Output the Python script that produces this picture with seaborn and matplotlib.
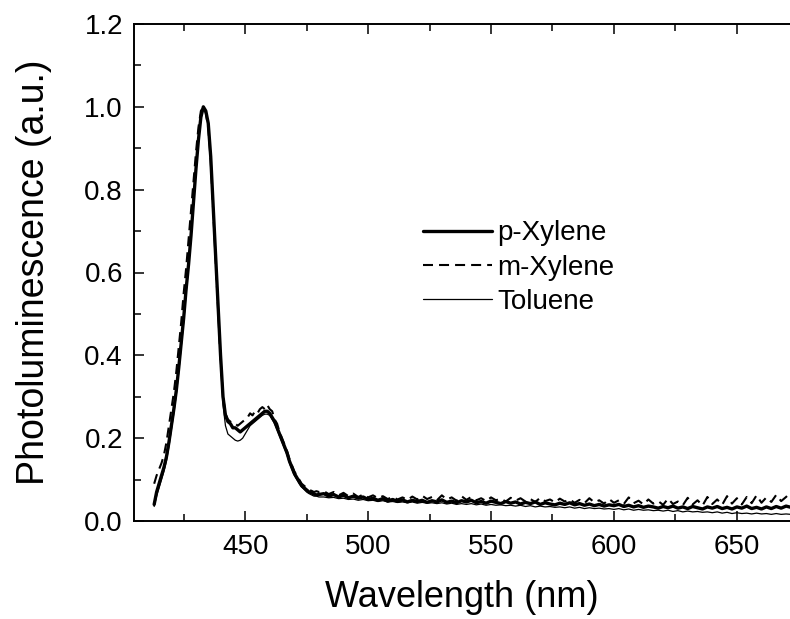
import numpy as np
import pandas as pd
import matplotlib
matplotlib.use("Agg")
import matplotlib.pyplot as plt
from matplotlib.ticker import MultipleLocator
import seaborn as sns

# ---------------- data ----------------
wl_peak = list(range(413, 481))          # 1 nm steps
wl_tail = list(range(482, 673, 2))       # 2 nm steps
wavelength = wl_peak + wl_tail

pxylene_peak = [0.04, 0.07, 0.09, 0.11, 0.13, 0.155, 0.19, 0.23, 0.27, 0.315,
                0.37, 0.43, 0.49, 0.56, 0.62, 0.69, 0.77, 0.85, 0.92, 0.975,
                1.0, 0.99, 0.96, 0.88, 0.76, 0.64, 0.52, 0.40, 0.30, 0.255,
                0.24, 0.235, 0.225, 0.225, 0.22, 0.215, 0.22, 0.225, 0.23, 0.235,
                0.24, 0.245, 0.25, 0.255, 0.26, 0.265, 0.265, 0.26, 0.25, 0.24,
                0.225, 0.21, 0.195, 0.18, 0.165, 0.145, 0.13, 0.115, 0.105, 0.095,
                0.085, 0.08, 0.075, 0.07, 0.068, 0.065, 0.063, 0.064]
pxylene_tail = [0.066, 0.060, 0.064, 0.058, 0.062, 0.056, 0.060, 0.055, 0.058, 0.052,
                0.055, 0.050, 0.054, 0.048, 0.052, 0.047, 0.051, 0.046, 0.050, 0.047,
                0.050, 0.045, 0.049, 0.046, 0.051, 0.045, 0.048, 0.044, 0.049, 0.046,
                0.050, 0.044, 0.047, 0.043, 0.048, 0.045, 0.042, 0.047, 0.043, 0.046,
                0.041, 0.045, 0.042, 0.046, 0.040, 0.044, 0.041, 0.039, 0.043, 0.040,
                0.044, 0.039, 0.042, 0.038, 0.041, 0.037, 0.040, 0.036, 0.039, 0.037,
                0.040, 0.035, 0.038, 0.034, 0.037, 0.033, 0.036, 0.034, 0.031, 0.035,
                0.032, 0.036, 0.031, 0.034, 0.030, 0.035, 0.032, 0.029, 0.034, 0.031,
                0.035, 0.030, 0.033, 0.029, 0.034, 0.031, 0.036, 0.030, 0.033, 0.029,
                0.034, 0.030, 0.035, 0.031, 0.036, 0.033]

mxylene_peak = [0.09, 0.11, 0.125, 0.14, 0.16, 0.19, 0.23, 0.27, 0.31, 0.36,
                0.42, 0.48, 0.55, 0.61, 0.68, 0.75, 0.82, 0.89, 0.95, 0.99,
                1.0, 0.985, 0.95, 0.87, 0.75, 0.63, 0.51, 0.39, 0.30, 0.26,
                0.245, 0.24, 0.235, 0.235, 0.23, 0.235, 0.24, 0.245, 0.25, 0.26,
                0.255, 0.265, 0.26, 0.27, 0.275, 0.27, 0.28, 0.27, 0.265, 0.245,
                0.235, 0.215, 0.20, 0.185, 0.17, 0.15, 0.135, 0.12, 0.11, 0.10,
                0.09, 0.085, 0.08, 0.075, 0.073, 0.07, 0.072, 0.07]
mxylene_tail = [0.072, 0.065, 0.070, 0.062, 0.068, 0.060, 0.066, 0.058, 0.064, 0.057,
                0.062, 0.055, 0.060, 0.053, 0.058, 0.052, 0.057, 0.051, 0.059, 0.052,
                0.061, 0.053, 0.058, 0.050, 0.062, 0.052, 0.057, 0.049, 0.060, 0.051,
                0.058, 0.050, 0.055, 0.048, 0.057, 0.050, 0.054, 0.047, 0.056, 0.049,
                0.055, 0.047, 0.053, 0.046, 0.056, 0.048, 0.052, 0.045, 0.054, 0.047,
                0.052, 0.044, 0.051, 0.043, 0.055, 0.045, 0.050, 0.042, 0.053, 0.044,
                0.050, 0.041, 0.057, 0.043, 0.049, 0.040, 0.052, 0.042, 0.048, 0.039,
                0.054, 0.041, 0.047, 0.038, 0.056, 0.040, 0.050, 0.037, 0.058, 0.041,
                0.052, 0.039, 0.060, 0.042, 0.055, 0.040, 0.058, 0.043, 0.062, 0.044,
                0.057, 0.046, 0.063, 0.048, 0.058, 0.070]

toluene_peak = [0.035, 0.06, 0.08, 0.10, 0.12, 0.145, 0.18, 0.22, 0.26, 0.305,
                0.36, 0.42, 0.48, 0.55, 0.615, 0.685, 0.765, 0.845, 0.915, 0.97,
                1.0, 0.99, 0.955, 0.87, 0.75, 0.625, 0.50, 0.38, 0.28, 0.23,
                0.21, 0.205, 0.20, 0.195, 0.193, 0.195, 0.20, 0.21, 0.22, 0.23,
                0.235, 0.24, 0.245, 0.25, 0.255, 0.258, 0.258, 0.255, 0.245, 0.235,
                0.22, 0.205, 0.19, 0.175, 0.16, 0.14, 0.125, 0.11, 0.10, 0.09,
                0.082, 0.076, 0.07, 0.066, 0.063, 0.06, 0.06, 0.058]
toluene_tail = [0.058, 0.056, 0.057, 0.054, 0.055, 0.052, 0.053, 0.050, 0.052, 0.049,
                0.050, 0.047, 0.049, 0.046, 0.047, 0.045, 0.046, 0.044, 0.046, 0.043,
                0.045, 0.043, 0.044, 0.042, 0.044, 0.041, 0.043, 0.040, 0.042, 0.040,
                0.042, 0.039, 0.041, 0.038, 0.040, 0.038, 0.039, 0.037, 0.038, 0.036,
                0.038, 0.035, 0.037, 0.034, 0.036, 0.034, 0.035, 0.033, 0.034, 0.032,
                0.034, 0.031, 0.033, 0.030, 0.032, 0.030, 0.031, 0.029, 0.030, 0.028,
                0.030, 0.027, 0.029, 0.026, 0.028, 0.026, 0.027, 0.025, 0.026, 0.024,
                0.026, 0.023, 0.025, 0.022, 0.024, 0.022, 0.023, 0.021, 0.022, 0.020,
                0.022, 0.019, 0.021, 0.018, 0.020, 0.018, 0.019, 0.017, 0.019, 0.017,
                0.018, 0.016, 0.018, 0.016, 0.017, 0.016]

series_names = ["p-Xylene", "m-Xylene", "Toluene"]
series_values = [pxylene_peak + pxylene_tail,
                 mxylene_peak + mxylene_tail,
                 toluene_peak + toluene_tail]

x_ticks = [450, 500, 550, 600, 650]
y_ticks = [0.0, 0.2, 0.4, 0.6, 0.8, 1.0, 1.2]

# ---------------- plotting ----------------
sns.set_style("ticks")
plt.rcParams["font.family"] = ["Liberation Sans", "DejaVu Sans"]
plt.rcParams["text.color"] = "black"
plt.rcParams["axes.labelcolor"] = "black"
plt.rcParams["xtick.color"] = "black"
plt.rcParams["ytick.color"] = "black"

fig = plt.figure(figsize=(7.9, 6.19), dpi=100)
ax = fig.add_axes([134 / 790, 1 - 521 / 619, 1 - 134 / 790, (521 - 24) / 619])

styles = [
    dict(lw=2.4, ls="-"),
    dict(lw=1.5, ls=(0, (4.8, 2.9))),
    dict(lw=0.9, ls="-"),
]
for name, vals, st in zip(series_names, series_values, styles):
    df = pd.DataFrame({"wavelength": wavelength, "pl": vals})
    sns.lineplot(data=df, x="wavelength", y="pl", ax=ax, color="black",
                 linewidth=st["lw"], linestyle=st["ls"], label=name,
                 estimator=None, sort=False)

ax.set_xlim(404.8, 671.6)
ax.set_ylim(0.0, 1.2)
ax.set_xticks(x_ticks)
ax.set_yticks(y_ticks)
ax.set_yticklabels([f"{v:.1f}" for v in y_ticks])
ax.xaxis.set_minor_locator(MultipleLocator(25))
ax.yaxis.set_minor_locator(MultipleLocator(0.1))

ax.tick_params(which="both", direction="in", top=True, right=False,
               width=1.1, colors="black", labelsize=20)
ax.tick_params(which="major", length=7.5)
ax.tick_params(which="minor", length=4.8)
ax.tick_params(axis="x", pad=9)
ax.tick_params(axis="y", pad=8)

for side in ["left", "bottom", "top"]:
    ax.spines[side].set_linewidth(1.4)
    ax.spines[side].set_color("black")
ax.spines["right"].set_visible(False)

ax.set_xlabel("Wavelength (nm)", fontsize=26, labelpad=15)
ax.set_ylabel("Photoluminescence (a.u.)", fontsize=27, labelpad=23)

leg = ax.legend(loc="upper left", bbox_to_anchor=(0.4405, 0.605), frameon=False,
                fontsize=20, handlelength=2.48, handletextpad=0.2,
                labelspacing=0.3, borderpad=0, borderaxespad=0)

fig.savefig("out.png", dpi=100)
